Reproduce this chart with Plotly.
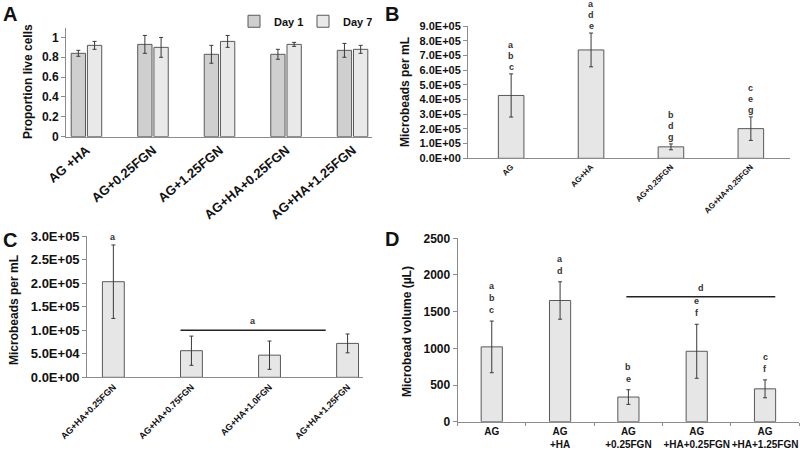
import plotly.graph_objects as go

# ---- data ----
a_groups = ["AG +HA", "AG+0.25FGN", "AG+1.25FGN", "AG+HA+0.25FGN", "AG+HA+1.25FGN"]
a_day1 = [0.84, 0.93, 0.83, 0.83, 0.87]
a_day1_err = [0.03, 0.09, 0.09, 0.05, 0.07]
a_day7 = [0.92, 0.90, 0.96, 0.93, 0.88]
a_day7_err = [0.04, 0.10, 0.06, 0.02, 0.04]

b_groups = ["AG", "AG+HA", "AG+0.25FGN", "AG+HA+0.25FGN"]
b_vals = [4.28e5, 7.38e5, 0.78e5, 2.02e5]
b_err = [1.47e5, 1.15e5, 0.20e5, 0.80e5]
b_letters = [["a", "b", "c"], ["a", "d", "e"], ["b", "d", "g"], ["c", "e", "g"]]

c_groups = ["AG+HA+0.25FGN", "AG+HA+0.75FGN", "AG+HA+1.0FGN", "AG+HA+1.25FGN"]
c_vals = [2.03e5, 0.565e5, 0.47e5, 0.72e5]
c_err = [0.78e5, 0.31e5, 0.30e5, 0.20e5]
c_letters = [["a"], [], [], []]
c_bracket = (0.86, 2.72, 1.0e5, "a")

d_groups = ["AG", "AG<br>+HA", "AG<br>+0.25FGN", "AG<br>+HA+0.25FGN", "AG<br>+HA+1.25FGN"]
d_vals = [1020, 1652, 336, 960, 448]
d_err = [352, 255, 100, 368, 122]
d_letters = [["a", "b", "c"], ["a", "d"], ["b", "e"], ["e", "f"], ["c", "f"]]
d_bracket = (1.97, 4.15, 1703, "d")

FONT = "Arial, Liberation Sans, sans-serif"
EDGE = "#595959"
AXIS = "#8c8c8c"
ERR = dict(type="data", thickness=1, width=2, color="#3a3a3a")

fig = go.Figure()

# Panel A
fig.add_trace(go.Bar(x=a_groups, y=a_day1, name="Day 1", width=0.215, offset=-0.232,
                     marker=dict(color="#cfcfcf", line=dict(color=EDGE, width=1)),
                     error_y=dict(array=a_day1_err, **ERR), xaxis="x", yaxis="y"))
fig.add_trace(go.Bar(x=a_groups, y=a_day7, name="Day 7", width=0.215, offset=0.012,
                     marker=dict(color="#e9e9e9", line=dict(color=EDGE, width=1)),
                     error_y=dict(array=a_day7_err, **ERR), xaxis="x", yaxis="y"))

# Panels B, C, D
for vals, errs, cats, w, ax in [(b_vals, b_err, b_groups, 0.32, "2"),
                                (c_vals, c_err, c_groups, 0.28, "3"),
                                (d_vals, d_err, d_groups, 0.31, "4")]:
    fig.add_trace(go.Bar(x=cats, y=vals, width=w, showlegend=False,
                         marker=dict(color="#e6e6e6", line=dict(color=EDGE, width=1)),
                         error_y=dict(array=errs, **ERR), xaxis="x" + ax, yaxis="y" + ax))


def yax(domain, anchor, rng, size=12, **kw):
    return dict(domain=domain, anchor=anchor, range=rng, showline=True, linecolor=AXIS,
                ticks="outside", ticklen=4, tickcolor=AXIS, showgrid=False, zeroline=False,
                automargin=False,
                tickfont=dict(family=FONT, size=size, color="#111", weight="bold"), **kw)


def xax(domain, anchor, rng, size, angle, **kw):
    return dict(domain=domain, anchor=anchor, range=rng, showline=True, linecolor=AXIS,
                showgrid=False, tickangle=angle, type="category", automargin=False,
                tickfont=dict(family=FONT, size=size, color="#111", weight="bold"), **kw)


b_ticks = [i * 1e5 for i in range(10)]
c_ticks = [i * 0.5e5 for i in range(7)]

fig.update_layout(
    width=800, height=451, margin=dict(l=0, r=0, t=0, b=0),
    paper_bgcolor="white", plot_bgcolor="white", barmode="group",
    font=dict(family=FONT, color="#111"),
    xaxis=xax([0.0825, 0.465], "y", [-0.31, 4.29], 13, -40, ticks=""),
    yaxis=yax([0.697, 0.939], "x", [0, 1.1], 12, tickvals=[0, 0.2, 0.4, 0.6, 0.8, 1],
              ticktext=["0", "0.2", "0.4", "0.6", "0.8", "1"]),
    xaxis2=xax([0.585, 0.9875], "y2", [-0.54, 3.49], 8, -45, ticks=""),
    yaxis2=yax([0.649, 0.942], "x2", [0, 9e5], 11, tickvals=b_ticks,
               ticktext=["{:.1E}".format(v) for v in b_ticks]),
    xaxis3=xax([0.109, 0.454], "y3", [-0.335, 3.2], 9, -45, ticks=""),
    yaxis3=yax([0.1634, 0.4767], "x3", [0, 3e5], 13, tickvals=c_ticks,
               ticktext=["{:.1E}".format(v) for v in c_ticks]),
    xaxis4=xax([0.572, 0.999], "y4", [-0.5, 4.5], 10, 0, ticks="outside",
               tickson="boundaries", ticklen=3, tickcolor=AXIS),
    yaxis4=yax([0.065, 0.4716], "x4", [0, 2500], 12, dtick=500),
    legend=dict(orientation="h", x=0.2925, y=0.985, xanchor="left", yanchor="top",
                font=dict(family=FONT, size=11, weight="bold"), itemwidth=30,
                entrywidth=24, bgcolor="rgba(0,0,0,0)"),
)

ann = []
letter_font = dict(family=FONT, size=9, color="#333", weight="bold")


def add_letters(cats, vals, errs, letters, ax, gap, step):
    for cat, v, e, lets in zip(cats, vals, errs, letters):
        for k, let in enumerate(reversed(lets)):
            ann.append(dict(x=cat, y=v + e, xref="x" + ax, yref="y" + ax, text=let,
                            showarrow=False, yanchor="bottom", yshift=gap + k * step,
                            font=letter_font))


add_letters(b_groups, b_vals, b_err, b_letters, "2", 0, 11)
add_letters(c_groups, c_vals, c_err, c_letters, "3", 1, 12)
add_letters(d_groups, d_vals, d_err, d_letters, "4", 4, 12)

for (x0, x1, yv, let), ax in [(c_bracket, "3"), (d_bracket, "4")]:
    fig.add_shape(type="line", x0=x0, x1=x1, y0=yv, y1=yv, xref="x" + ax, yref="y" + ax,
                  line=dict(color="#222", width=1.5))
    ann.append(dict(x=(x0 + x1) / 2, y=yv, xref="x" + ax, yref="y" + ax, text=let,
                    showarrow=False, yanchor="bottom", yshift=2, font=letter_font))

# panel letters
for txt, x, y in [("A", 10, 14), ("B", 392, 14), ("C", 10, 240), ("D", 392, 239)]:
    ann.append(dict(x=x / 800, y=1 - y / 451, xref="paper", yref="paper", text=txt,
                    xanchor="center", yanchor="middle", showarrow=False,
                    font=dict(family=FONT, size=20, color="#111", weight="bold")))

# y axis titles
for txt, x, y in [("Proportion live cells", 28, 82), ("Microbeads per mL", 405, 92),
                  ("Microbeads per mL", 14, 310), ("Microbead volume (µL)", 407, 332)]:
    ann.append(dict(x=x / 800, y=1 - y / 451, xref="paper", yref="paper", text=txt,
                    textangle=-90, xanchor="center", yanchor="middle", showarrow=False,
                    font=dict(family=FONT, size=12, color="#111", weight="bold")))

fig.update_layout(annotations=ann)
fig.write_html("out.html", config={"displayModeBar": False},
               post_script="document.body.style.margin='0';")
